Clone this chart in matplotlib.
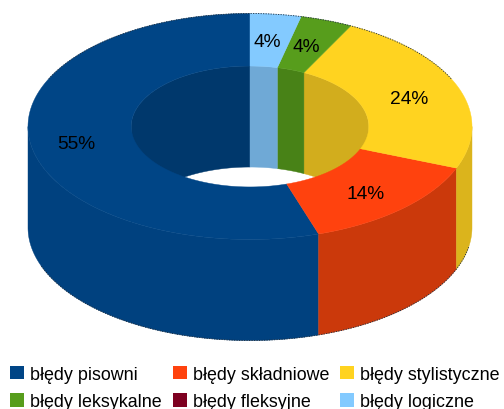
import numpy as np
import matplotlib
matplotlib.use("Agg")
import matplotlib.pyplot as plt
from matplotlib.patches import Patch, Polygon

categories = ["błędy pisowni", "błędy składniowe", "błędy stylistyczne",
              "błędy leksykalne", "błędy fleksyjne", "błędy logiczne"]
shares = [55.0, 14.0, 23.5, 3.8, 0.0, 3.7]

top_colors = ["#004586", "#ff420e", "#ffd320", "#579d1c", "#7e0021", "#83caff"]
outer_colors = ["#00417f", "#cb390b", "#dbb41c", "#4a8618", "#6b001c", "#6fa9d6"]
inner_colors = ["#00386c", "#cb390b", "#d2ad1d", "#488217", "#6b001c", "#6fa9d6"]

plt.rcParams["font.family"] = ["Liberation Sans", "DejaVu Sans"]
fig = plt.figure(figsize=(5.04, 4.10), dpi=100)
ax = fig.add_axes([0, 0, 1, 1])
ax.set_xlim(0, 504)
ax.set_ylim(410, 0)
ax.axis("off")

CX, CY, RX, RY, DEPTH, HOLE = 250, 127.5, 222, 113, 101, 0.535


def arc(a0, a1, frac, dy=0):
    t = np.radians(np.linspace(a0, a1, max(int(abs(a1 - a0)) * 2, 2)))
    return np.column_stack([CX + frac * RX * np.cos(t), CY + dy - frac * RY * np.sin(t)])


def overlap(a0, a1, lo, hi):
    return max(a0, lo), min(a1, hi)


ends = 90 + np.cumsum(shares) * 3.6
starts = np.r_[90, ends[:-1]]

# Back part of the hole wall
for a0, a1, c in zip(starts, ends, inner_colors):
    for lo, hi in ((0, 180), (360, 540)):
        s, e = overlap(a0, a1, lo, hi)
        if e > s:
            pts = np.vstack([arc(s, e, HOLE), arc(e, s, HOLE, DEPTH)])
            ax.add_patch(Polygon(pts, fc=c, ec=c, lw=0.3, zorder=1))

# Front part of the outer wall
for a0, a1, c in zip(starts, ends, outer_colors):
    s, e = overlap(a0, a1, 180, 360)
    if e > s:
        pts = np.vstack([arc(s, e, 1), arc(e, s, 1, DEPTH)])
        ax.add_patch(Polygon(pts, fc=c, ec=c, lw=0.3, zorder=2))

# Top face
for a0, a1, c in zip(starts, ends, top_colors):
    if a1 > a0:
        pts = np.vstack([arc(a0, a1, 1), arc(a1, a0, HOLE)])
        ax.add_patch(Polygon(pts, fc=c, ec=c, lw=0.3, zorder=3))

# Jagged dark silhouette edge on the back rim and the bottom rim
for a0, a1, dy in ((25, 155, 0), (200, 350, DEPTH)):
    pts = arc(a0, a1, 1, dy)
    ax.plot(pts[:, 0], pts[:, 1], color="#1a2a3a", lw=0.6, ls=(0, (1.5, 1.5)), zorder=3.5)

# Percentage labels
for a0, a1, v in zip(starts, ends, shares):
    if v > 0:
        m = np.radians((a0 + a1) / 2)
        ax.text(CX - 3 + 0.78 * RX * np.cos(m), CY + 3 - 0.78 * RY * np.sin(m), f"{v:.0f}%",
                fontsize=13.8, color="black", ha="center", va="center", zorder=4)

# Legend (filled column-wise: three columns of two rows)
order = [0, 3, 1, 4, 2, 5]
handles = [Patch(fc=top_colors[i], ec="none", label=categories[i]) for i in order]
ax.legend(handles=handles, ncol=3, loc="upper left", bbox_to_anchor=(10 / 504, 1 - 367 / 410),
          frameon=False, fontsize=12.85, borderpad=0, borderaxespad=0, handlelength=0.78,
          handleheight=0.78, handletextpad=0.36, columnspacing=0.6, labelspacing=0.58)

fig.savefig("out.png", dpi=100)
